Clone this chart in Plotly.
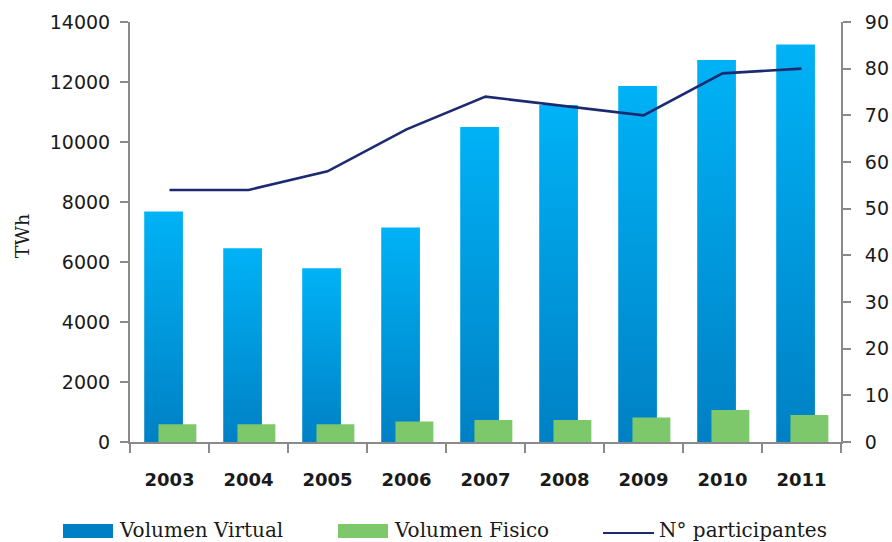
import plotly.graph_objects as go

# Market volumes (TWh) and number of participants per year
years = ["2003", "2004", "2005", "2006", "2007", "2008", "2009", "2010", "2011"]
volumen_virtual = [7680, 6460, 5790, 7150, 10500, 11230, 11870, 12730, 13250]
volumen_fisico = [590, 590, 590, 680, 730, 730, 820, 1070, 900]
participantes = [54, 54, 58, 67, 74, 72, 70, 79, 80]

left_ticks = list(range(0, 14001, 2000))
right_ticks = list(range(0, 91, 10))

BLUE_DARK = "#0080C4"
BLUE_LIGHT = "#00B2F6"
GREEN = "#7CC86A"
NAVY = "#1C2A72"
AXIS_GREY = "#8A8A8A"
TICK_FONT = dict(family="DejaVu Sans", size=19, color="#1a1a1a")
SERIF = "DejaVu Serif"

# bar geometry in category units (slot width = 1)
V_OFF, V_W = -0.32, 0.49
F_OFF, F_W = -0.14, 0.48

pos = list(range(len(years)))
fig = go.Figure()

# Virtual volume: each bar is a filled rectangle with its own vertical gradient
for i, v in zip(pos, volumen_virtual):
    x0, x1 = i + V_OFF, i + V_OFF + V_W
    fig.add_trace(go.Scatter(
        x=[x0, x0, x1, x1, x0], y=[0, v, v, 0, 0],
        mode="lines", fill="toself", line=dict(width=0),
        fillgradient=dict(type="vertical",
                          colorscale=[[0, BLUE_DARK], [1, BLUE_LIGHT]]),
        hoverinfo="skip", showlegend=False, yaxis="y",
    ))

# Physical volume on an overlaying axis so it sits above the virtual bars
fig.add_trace(go.Bar(
    x=pos, y=volumen_fisico, offset=F_OFF, width=F_W,
    marker=dict(color=GREEN, line=dict(width=0)),
    showlegend=False, yaxis="y3",
))

# Number of participants on the right axis
fig.add_trace(go.Scatter(
    x=pos, y=participantes, mode="lines",
    line=dict(color=NAVY, width=2.6),
    showlegend=False, yaxis="y2",
))

fig.update_layout(
    width=892, height=542,
    margin=dict(l=130, r=51, t=22, b=100),
    plot_bgcolor="white", paper_bgcolor="white",
    xaxis=dict(
        range=[-0.5, len(years) - 0.5], automargin=False,
        tickvals=pos, ticktext=years,
        ticks="outside", ticklen=0, tickcolor="rgba(0,0,0,0)",
        ticklabelstandoff=20,
        tickfont=dict(family="DejaVu Sans", size=18, color="#1a1a1a", weight="bold"),
        showline=True, linecolor=AXIS_GREY, linewidth=2,
        showgrid=False, zeroline=False,
        minor=dict(tickvals=[p - 0.5 for p in pos] + [len(years) - 0.5],
                   ticks="outside", ticklen=9, tickcolor=AXIS_GREY,
                   tickwidth=2, showgrid=False),
    ),
    yaxis=dict(
        range=[0, 14000], tickvals=left_ticks, tickformat="d", automargin=False,
        ticks="outside", ticklen=8, tickcolor=AXIS_GREY, tickwidth=2,
        ticklabelstandoff=6,
        showline=True, linecolor=AXIS_GREY, linewidth=2,
        showgrid=False, zeroline=False, tickfont=TICK_FONT,
    ),
    yaxis2=dict(
        range=[0, 90], tickvals=right_ticks, overlaying="y", side="right",
        tickformat="d", automargin=False,
        ticks="outside", ticklen=8, tickcolor=AXIS_GREY, tickwidth=2,
        ticklabelstandoff=10,
        showline=True, linecolor=AXIS_GREY, linewidth=2,
        showgrid=False, zeroline=False, tickfont=TICK_FONT,
    ),
    yaxis3=dict(
        range=[0, 14000], overlaying="y", visible=False, automargin=False,
    ),
)

# axis title
fig.add_annotation(
    text="TWh", xref="paper", yref="paper", x=-0.152, y=0.49,
    textangle=-90, showarrow=False, xanchor="center", yanchor="middle",
    font=dict(family=SERIF, size=19, color="#1a1a1a"),
)

# legend row drawn below the plot area
def px_x(px):
    return (px - 130) / 711


def px_y(py):
    return (442 - py) / 420


legend_items = [
    ("Volumen Virtual", "rect", BLUE_DARK, 63),
    ("Volumen Fisico", "rect", GREEN, 338),
    ("N\u00b0 participantes", "line", NAVY, 603),
]
for label, kind, color, left in legend_items:
    if kind == "rect":
        fig.add_shape(type="rect", xref="paper", yref="paper",
                      x0=px_x(left), x1=px_x(left + 50),
                      y0=px_y(538), y1=px_y(524),
                      fillcolor=color, line=dict(width=0))
    else:
        fig.add_shape(type="line", xref="paper", yref="paper",
                      x0=px_x(left), x1=px_x(left + 51),
                      y0=px_y(533), y1=px_y(533),
                      line=dict(color=color, width=2))
    fig.add_annotation(
        text=label, xref="paper", yref="paper",
        x=px_x(left + 54), y=px_y(530), xanchor="left", yanchor="middle",
        showarrow=False, font=dict(family=SERIF, size=20, color="#1a1a1a"),
    )

fig.write_html("out.html")
